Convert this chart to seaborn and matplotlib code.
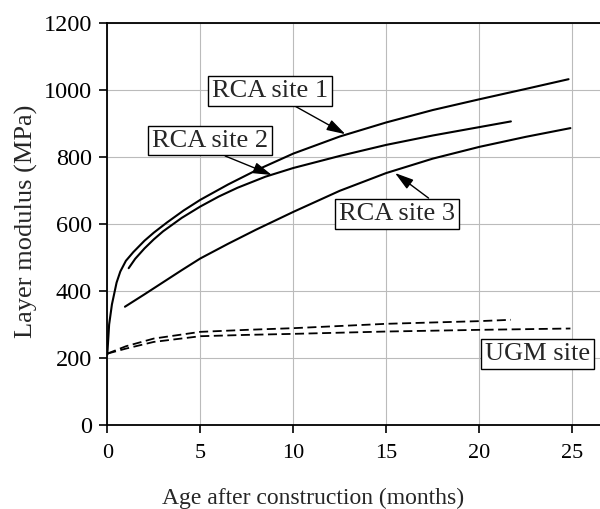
import seaborn as sns
import matplotlib.pyplot as plt
import numpy as np

# values
site1_age = [0, 0.1, 0.25, 0.5, 0.7, 1.0, 1.4, 2.0, 2.5, 3.2, 4.1, 5.0, 6.5, 8.0, 10.0, 12.5, 15.0, 17.5, 20.0, 22.5, 24.8]
site1_mod = [210, 300, 360, 425, 458, 490, 516, 550, 574, 604, 640, 672, 718, 760, 810, 861, 903, 940, 972, 1003, 1032]

site2_age = [1.15, 1.5, 2.0, 2.5, 3.0, 4.0, 5.0, 6.0, 7.0, 8.5, 10.0, 12.5, 15.0, 17.5, 20.0, 21.7]
site2_mod = [468, 496, 527, 554, 578, 618, 652, 682, 708, 741, 767, 803, 836, 864, 889, 906]

site3_age = [0.95, 2.0, 3.0, 4.0, 5.0, 6.5, 8.0, 10.0, 12.5, 15.0, 17.5, 20.0, 22.5, 24.9]
site3_mod = [353, 390, 426, 462, 497, 541, 583, 636, 699, 752, 795, 830, 860, 886]

ugm_a_age = [0, 1, 2.5, 5, 7.5, 10, 15, 20, 21.7]
ugm_a_mod = [213, 235, 258, 278, 284, 289, 302, 310, 314]

ugm_b_age = [0, 1, 2.5, 5, 7.5, 10, 15, 20, 24.9]
ugm_b_mod = [213, 228, 248, 265, 269, 272, 279, 284, 288]

labels = ['RCA site 1', 'RCA site 2', 'RCA site 3', 'UGM site']
label_pos = [(8.75, 997), (5.5, 849), (15.6, 631), (23.15, 213)]
arrow_tip = [(12.8, 868), (8.85, 746), (15.47, 752), None]
arrow_rel = [(0.65, 0), (0.54, 0), (0.82, 1), None]

sns.set_style('ticks')
plt.rcParams['font.family'] = ['Liberation Serif', 'DejaVu Serif']

fig = plt.figure(figsize=(6, 5.09), dpi=100)
ax = fig.add_axes([0.1788, 0.165, 0.837, 0.79])

sns.lineplot(x=site1_age, y=site1_mod, color='black', lw=1.5, sort=False, ax=ax)
sns.lineplot(x=site2_age, y=site2_mod, color='black', lw=1.5, sort=False, ax=ax)
sns.lineplot(x=site3_age, y=site3_mod, color='black', lw=1.5, sort=False, ax=ax)
sns.lineplot(x=ugm_a_age, y=ugm_a_mod, color='black', lw=1.3, sort=False, ax=ax, linestyle=(0, (5, 2.5)))
sns.lineplot(x=ugm_b_age, y=ugm_b_mod, color='black', lw=1.3, sort=False, ax=ax, linestyle=(0, (5, 2.5)))

for lab, pos, tip, rel in zip(labels, label_pos, arrow_tip, arrow_rel):
    bbox = dict(boxstyle='square,pad=0.15', fc='white', ec='black', lw=1)
    if tip is None:
        ax.text(pos[0], pos[1], lab, fontsize=19, ha='center', va='center', bbox=bbox)
    else:
        ax.annotate(lab, xy=tip, xytext=pos, fontsize=19, ha='center', va='center', bbox=bbox,
                    arrowprops=dict(arrowstyle='-|>,head_length=0.6,head_width=0.18', color='black',
                                    lw=1, relpos=rel, shrinkA=0, shrinkB=0))

ax.set_xlim(0, 27)
ax.set_ylim(0, 1200)
ax.set_xticks([0, 5, 10, 15, 20, 25])
ax.set_yticks(np.arange(0, 1201, 200))
ax.grid(True, color='#bbbbbb', lw=0.8)
ax.set_axisbelow(True)
for s in ['left', 'bottom', 'top']:
    ax.spines[s].set_color('black')
    ax.spines[s].set_linewidth(1.3)
ax.spines['right'].set_visible(False)
ax.tick_params(direction='out', length=6, width=1.2, colors='black')
ax.tick_params(axis='x', labelsize=16, pad=8)
ax.tick_params(axis='y', labelsize=17.5, pad=5)

ax.set_xlabel('Age after construction (months)', fontsize=17)
ax.set_ylabel('Layer modulus (MPa)', fontsize=19)
ax.xaxis.set_label_coords(0.41, -0.182)
ax.xaxis.label.set_va('center')
ax.yaxis.set_label_coords(-0.16, 0.506)
ax.yaxis.label.set_va('center')

fig.savefig('out.png', dpi=100)
